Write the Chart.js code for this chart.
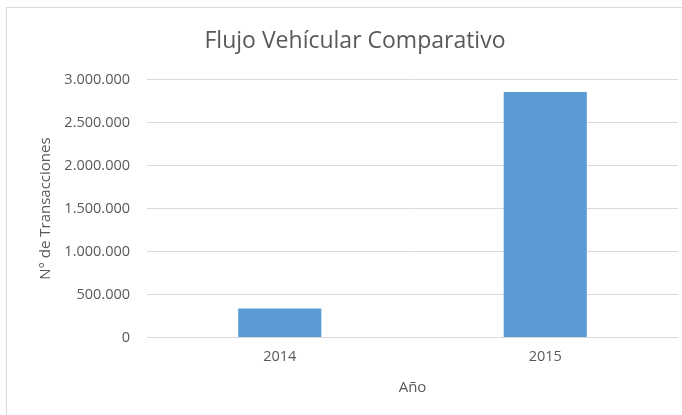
<!DOCTYPE html>
<html>
<head>
<meta charset="utf-8">
<script src="https://cdn.jsdelivr.net/npm/chart.js@4/dist/chart.umd.min.js"></script>
<style>
  html, body { margin: 0; padding: 0; background: #fff; }
  #wrap { position: relative; width: 682px; height: 415px; overflow: hidden; }
  #frame { position: absolute; left: 6px; top: 7px; width: 700px; height: 420px; border-left: 1px solid #d9d9d9; border-top: 1px solid #d9d9d9; box-sizing: border-box; }
  canvas { position: absolute; left: 0; top: 0; }
</style>
</head>
<body>
<div id="wrap">
  <div id="frame"></div>
  <canvas id="c" width="682" height="415"></canvas>
</div>
<script>
const categories = ['2014', '2015'];
const transacciones = [337000, 2857000];
const yTicks = [0, 500000, 1000000, 1500000, 2000000, 2500000, 3000000];

const fmt = v => String(Math.round(v)).replace(/\B(?=(\d{3})+(?!\d))/g, '.');
const grey = '#595959';
const fontFam = '"Open Sans", "Noto Sans", sans-serif';

new Chart(document.getElementById('c'), {
  type: 'bar',
  data: {
    labels: categories,
    datasets: [{
      data: transacciones,
      backgroundColor: '#5b9bd5',
      borderWidth: 0,
      barPercentage: 0.313,
      categoryPercentage: 1.0
    }]
  },
  options: {
    responsive: false,
    animation: false,
    devicePixelRatio: 1,
    layout: { padding: { left: 32, right: 4, top: 28, bottom: 18 } },
    plugins: {
      legend: { display: false },
      tooltip: { enabled: false },
      title: {
        display: true,
        text: 'Flujo Vehícular Comparativo',
        color: grey,
        font: { family: fontFam, size: 23, weight: 'normal', lineHeight: 1.2 },
        padding: { top: 0, bottom: 24 }
      }
    },
    scales: {
      x: {
        grid: { display: false },
        border: { display: false },
        ticks: { color: grey, font: { family: fontFam, size: 14.5, lineHeight: 1.2 }, padding: 3 },
        title: { display: true, text: 'Año', color: grey, font: { family: fontFam, size: 15, lineHeight: 1.2 }, padding: { top: 10, bottom: 0 } }
      },
      y: {
        min: 0,
        max: 3000000,
        afterBuildTicks: s => { s.ticks = yTicks.map(v => ({ value: v })); },
        afterFit: s => { s.width = 115; },
        grid: { color: '#d9d9d9', drawTicks: false },
        border: { display: false },
        ticks: { color: grey, font: { family: fontFam, size: 14.5 }, padding: 17, callback: v => fmt(v) },
        title: { display: true, text: 'N° de Transacciones', color: grey, font: { family: fontFam, size: 15, lineHeight: 1.2 }, padding: { top: 5, bottom: 0 } }
      }
    }
  }
});
</script>
</body>
</html>
